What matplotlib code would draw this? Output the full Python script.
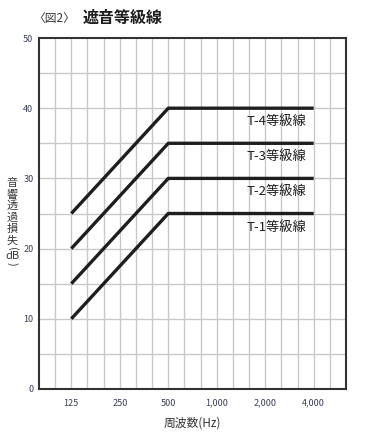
import numpy as np
import matplotlib.pyplot as plt

plt.rcParams['font.family'] = ['Noto Sans CJK JP', 'DejaVu Sans']

# data
freq_ticks = [125, 250, 500, 1000, 2000, 4000]
freq_labels = ['125', '250', '500', '1,000', '2,000', '4,000']
line_freq = [125, 500, 4000]
grades = ['T-1等級線', 'T-2等級線', 'T-3等級線', 'T-4等級線']
grade_values = [
    [10, 25, 25],
    [15, 30, 30],
    [20, 35, 35],
    [25, 40, 40],
]
ylabel_chars = ['音', '響', '透', '過', '損', '失', '(', 'dB', ')']

fig = plt.figure(figsize=(3.71, 4.38), dpi=100)
ax = fig.add_axes([39/371, 1-389/438, (346-39)/371, (389-38)/438])

x_ticks = np.log2(freq_ticks)
ax.set_xlim(x_ticks[0]-2/3, x_ticks[-1]+2/3)
ax.set_ylim(0, 50)

# 1/3 octave grid
minor = np.arange(x_ticks[0]-1/3, x_ticks[-1]+0.5, 1/3)
for v in minor:
    ax.axvline(v, color='#c8c8c8', lw=1.0, zorder=1)
for v in np.arange(5, 50, 5):
    ax.axhline(v, color='#c8c8c8', lw=1.0, zorder=1)

for name, vals in zip(grades, grade_values):
    ax.plot(np.log2(line_freq), vals, color='#1e1e1e', lw=2.4,
            solid_capstyle='butt', zorder=3)
    ax.text(np.log2(4000)-0.15, vals[-1]-1.0, name, ha='right', va='top',
            fontsize=9.5, color='#1e1e1e', zorder=4)

ax.set_xticks(x_ticks)
ax.set_xticklabels(freq_labels)
ax.set_yticks(np.arange(0, 51, 10))
ax.tick_params(length=0, labelsize=6.5, colors='#3a3f55', pad=7)
ax.tick_params(axis='y', pad=4)
for s in ax.spines.values():
    s.set_linewidth(1.5)
    s.set_color('#333333')

fig.text(192/371, 1-423/438, '周波数(Hz)', ha='center', va='center',
         fontsize=8.5, color='#333333')

# vertical y label, one character at a time; brackets turned sideways
ylabel_pos = [183, 194.5, 206, 217.5, 229, 240.5, 248.5, 256, 264]
for ch, yp in zip(ylabel_chars, ylabel_pos):
    rot = -90 if ch in '()' else 0
    fig.text(12/371, 1-yp/438, ch, ha='center', va='center', fontsize=8,
             color='#3a3a3a', rotation=rot)

fig.text(33/371, 1-18/438, '〈図2〉', ha='left', va='center', fontsize=8.5,
         color='#333333')
fig.text(83/371, 1-18/438, '遮音等級線', ha='left', va='center', fontsize=11.5,
         fontweight='bold', color='#1e1e1e')

fig.savefig('out.png', dpi=100)
